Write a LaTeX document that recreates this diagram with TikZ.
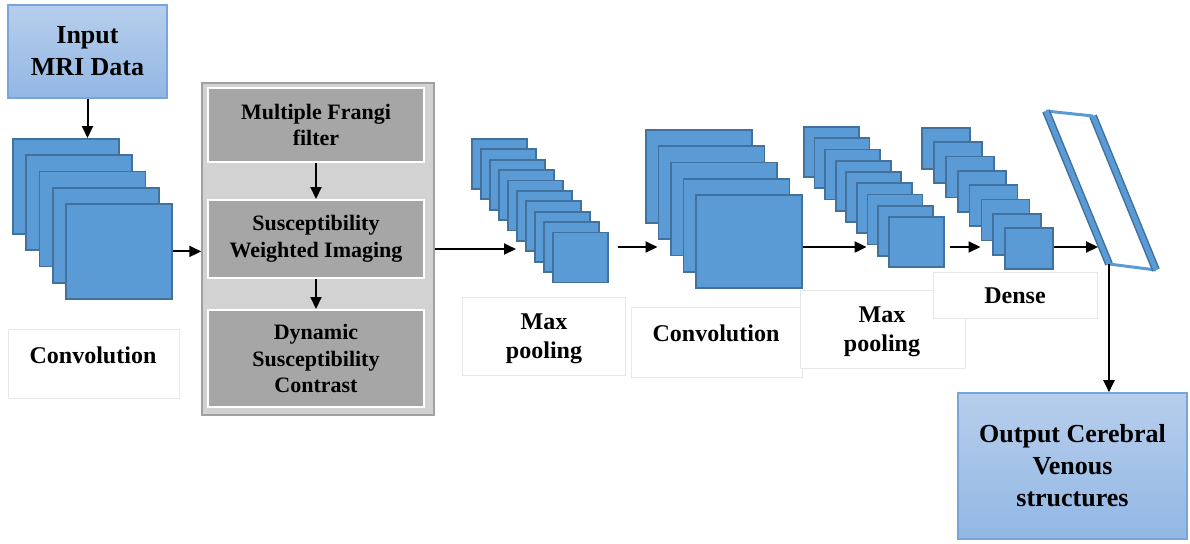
\documentclass[tikz,border=0pt]{standalone}
\usepackage{fontspec}
\setmainfont{Liberation Serif}
\usepackage{tikz}
\usetikzlibrary{arrows.meta, positioning, calc}

\definecolor{mapfill}{RGB}{91,155,213}
\definecolor{mapborder}{RGB}{65,113,156}
\definecolor{iotop}{RGB}{183,206,236}
\definecolor{iobot}{RGB}{146,183,228}
\definecolor{ioborder}{RGB}{120,165,220}
\definecolor{greyfill}{RGB}{210,210,210}
\definecolor{greyborder}{RGB}{160,160,160}
\definecolor{stepfill}{RGB}{166,166,166}
\definecolor{framecol}{RGB}{232,232,232}

\begin{document}
\begin{tikzpicture}[x=0.5pt, y=-0.5pt, >={Triangle[length=6pt,width=5.5pt]}, line width=1pt,
    every node/.style={align=center, font=\bfseries},
    fmap/.style={draw=mapborder, fill=mapfill, line width=0.9pt, anchor=north west, inner sep=0pt},
    iobox/.style={draw=ioborder, top color=iotop, bottom color=iobot, line width=0.8pt, font=\bfseries\fontsize{13}{16}\selectfont},
    stepbox/.style={draw=white, fill=stepfill, line width=1pt, minimum width=108pt, font=\bfseries\fontsize{11}{13.4}\selectfont},
    lbl/.style={font=\bfseries\fontsize{12}{14.5}\selectfont},
    lblframe/.style={draw=framecol, fill=white, line width=0.5pt}]
      \useasboundingbox (0,0) rectangle (1190,543);

      \draw[lblframe] (8,329) rectangle (179,398);
      \draw[lblframe] (462,297) rectangle (625,375);
      \draw[lblframe] (631,307) rectangle (802,377);
      \draw[lblframe] (800,290) rectangle (965,368);
      \draw[lblframe] (933,272) rectangle (1097,318);
      \node[lbl] (convA) at (93,355) {Convolution};
      \node[lbl] (poolB) at (544,339) {Max\\pooling};
      \node[lbl] (convC) at (716,333) {Convolution};
      \node[lbl] (poolD) at (882,332) {Max\\pooling};
      \node[lbl] (dense) at (1015,296) {Dense};

      \node[iobox, minimum width=79.5pt, minimum height=46.5pt] (inp) at (87.5,51.5) {Input\\MRI Data};
      \node[iobox, minimum width=114.5pt, minimum height=73pt] (out) at (1072.5,466) {Output Cerebral\\Venous\\structures};

      \foreach \i in {0,...,4}
        \node[fmap, minimum width=53pt, minimum height=47.5pt] (cA\i) at (12+13.25*\i, 138+16.25*\i) {};
      \foreach \i in {0,...,9}
        \node[fmap, minimum width=27.5pt, minimum height=25pt] (mB\i) at (471+9*\i, 138+10.4*\i) {};
      \foreach \i in {0,...,4}
        \node[fmap, minimum width=53pt, minimum height=46.5pt] (cC\i) at (645+12.5*\i, 129+16.25*\i) {};
      \foreach \i in {0,...,8}
        \node[fmap, minimum width=27.5pt, minimum height=25pt] (mD\i) at (803+10.6*\i, 126+11.25*\i) {};
      \foreach \i in {0,...,7}
        \node[fmap, minimum width=24pt, minimum height=20.5pt] (dN\i) at (921+11.9*\i, 127+14.3*\i) {};

      \node[draw=greyborder, fill=greyfill, line width=0.75pt, minimum width=116pt, minimum height=166pt] (grey) at (318,249) {};
      \node[stepbox, minimum height=37pt] (frangi) at (316,125) {Multiple Frangi\\filter};
      \node[stepbox, minimum height=39pt] (swi) at (316,239) {Susceptibility\\Weighted Imaging};
      \node[stepbox, minimum height=48.5pt] (dsc) at (316,358.5) {Dynamic\\Susceptibility\\Contrast};

      \coordinate (sTL) at (1046,111);
      \coordinate (sTR) at (1093,116);
      \coordinate (sBL) at (1109,264);
      \coordinate (sBR) at (1156,270);
      \coordinate (slabin) at (1098,247);
      \coordinate (axis) at (0,247);
      \draw[line width=1.5pt, draw=mapfill] (sTL) -- (sTR) (sBL) -- (sBR);
      \draw[line width=4pt, draw=mapborder] (sTL) -- (sBL) (sTR) -- (sBR);
      \draw[line width=2.5pt, draw=mapfill] (sTL) -- (sBL) (sTR) -- (sBR);

      \draw[->] (inp.south) -- (inp.south |- cA0.north);
      \draw[->] (cA4.east) -- (cA4.east -| grey.west);
      \draw[->] (frangi) -- (swi);
      \draw[->] (swi) -- (dsc);
      \draw[->] (grey.east) -- (grey.east -| mB5.west);
      \draw[->] ($(mB9.east |- axis)+(9,0)$) -- (cC1.west |- axis);
      \draw[->] (cC4.east |- axis) -- (mD6.west |- axis);
      \draw[->] ($(mD8.east |- axis)+(5,0)$) -- (dN5.west |- axis);
      \draw[->] (dN7.east |- axis) -- (slabin);
      \draw[->] (sBL) -- (sBL |- out.north);
    \end{tikzpicture}
\end{document}
